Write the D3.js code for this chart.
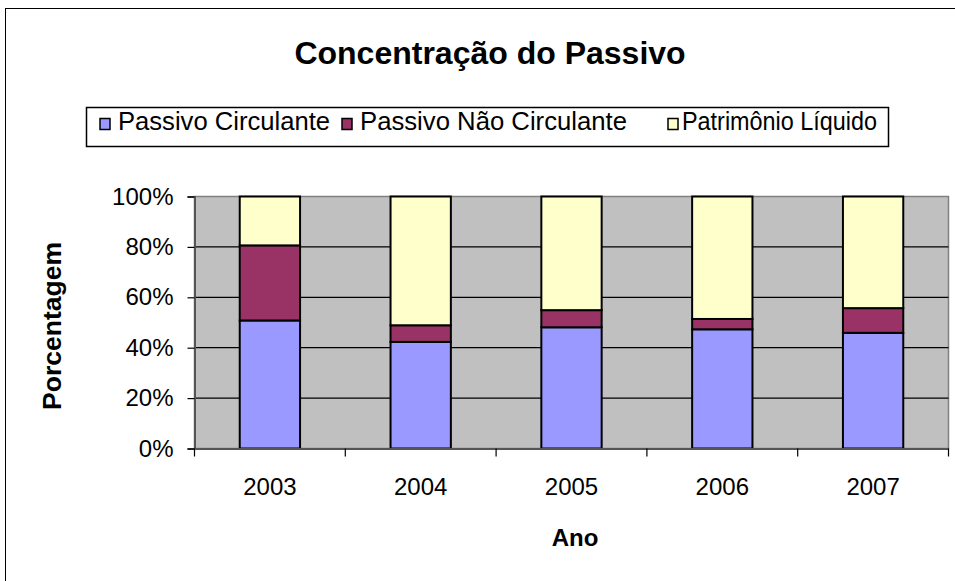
<!DOCTYPE html>
<html>
<head>
<meta charset="utf-8">
<script src="https://cdn.jsdelivr.net/npm/d3@7"></script>
<style>
  body { margin: 0; background: #fff; }
  svg { display: block; font-family: "Liberation Sans", Arial, sans-serif; }
</style>
</head>
<body>
<svg id="chart" width="955" height="581"></svg>
<script>
var categories = ["2003", "2004", "2005", "2006", "2007"];
var seriesNames = ["Passivo Circulante", "Passivo Não Circulante", "Patrimônio Líquido"];
var passivoCirculante = [50.8, 42.3, 48.1, 47.3, 45.9];
var passivoNaoCirculante = [29.8, 6.6, 6.8, 4.1, 9.8];
var patrimonioLiquido = [19.4, 51.1, 45.1, 48.6, 44.3];
var yTicks = [0, 20, 40, 60, 80, 100];
var colors = ["#9999ff", "#993366", "#ffffcc"];

var rows = categories.map(function(c, i) {
    return { ano: c, s0: passivoCirculante[i], s1: passivoNaoCirculante[i], s2: patrimonioLiquido[i] };
});

var svg = d3.select("#chart");
var plot = { left: 194.5, top: 196.5, right: 948.5, bottom: 448.5 };

// outer chart frame (runs past the window on right/bottom)
svg.append("rect")
    .attr("x", 5.5).attr("y", 8.5)
    .attr("width", 1000).attr("height", 700)
    .attr("fill", "#fff").attr("stroke", "#000").attr("stroke-width", 1);

var x = d3.scaleBand()
    .domain(categories)
    .range([plot.left, plot.right])
    .paddingInner(0.6).paddingOuter(0.3);

var xStep = d3.scaleBand().domain(categories).range([plot.left, plot.right]);

var y = d3.scaleLinear().domain([0, 100]).range([plot.bottom, plot.top]);

// plot area
svg.append("rect")
    .attr("x", plot.left).attr("y", plot.top)
    .attr("width", plot.right - plot.left).attr("height", plot.bottom - plot.top)
    .attr("fill", "#c0c0c0").attr("stroke", "#808080").attr("stroke-width", 1.5);

// gridlines
svg.append("g").selectAll("line")
    .data(yTicks.filter(function(t) { return t > 0 && t < 100; }))
    .enter().append("line")
    .attr("x1", plot.left).attr("x2", plot.right)
    .attr("y1", function(d) { return y(d); }).attr("y2", function(d) { return y(d); })
    .attr("stroke", "#000").attr("stroke-width", 1.2);

// stacked bars
var stack = d3.stack().keys(["s0", "s1", "s2"]);
var layers = stack(rows);

svg.append("g").selectAll("g")
    .data(layers)
    .enter().append("g")
    .attr("fill", function(d, i) { return colors[i]; })
    .selectAll("rect")
    .data(function(d) { return d; })
    .enter().append("rect")
    .attr("x", function(d) { return x(d.data.ano); })
    .attr("width", x.bandwidth())
    .attr("y", function(d) { return y(d[1]); })
    .attr("height", function(d) { return y(d[0]) - y(d[1]); })
    .attr("stroke", "#000").attr("stroke-width", 2);

// y axis
var yAxis = d3.axisLeft(y)
    .tickValues(yTicks)
    .tickSize(7)
    .tickPadding(14)
    .tickFormat(function(d) { return d + "%"; });

var gy = svg.append("g")
    .attr("transform", "translate(" + plot.left + ",0)")
    .call(yAxis);
gy.select(".domain").attr("stroke", "#555").attr("stroke-width", 2);
gy.selectAll(".tick line").attr("stroke", "#000").attr("stroke-width", 1.2);
gy.selectAll("text")
    .attr("font-size", 24).attr("fill", "#000")
    .attr("font-family", "Liberation Sans, Arial, sans-serif");

// x axis: ticks between categories
var xAxis = d3.axisBottom(xStep).tickSize(0).tickPadding(29);
var gx = svg.append("g")
    .attr("transform", "translate(0," + plot.bottom + ")")
    .call(xAxis);
gx.select(".domain").attr("stroke", "#555").attr("stroke-width", 2);
gx.selectAll("text")
    .attr("font-size", 24).attr("fill", "#000")
    .attr("font-family", "Liberation Sans, Arial, sans-serif");

var boundaries = categories.map(function(c) { return xStep(c); }).concat([plot.right]);
gx.selectAll(".sep")
    .data(boundaries)
    .enter().append("line")
    .attr("class", "sep")
    .attr("x1", function(d) { return d; }).attr("x2", function(d) { return d; })
    .attr("y1", 0).attr("y2", 8)
    .attr("stroke", "#000").attr("stroke-width", 1.2);

// title
svg.append("text")
    .attr("x", 490).attr("y", 64)
    .attr("text-anchor", "middle")
    .attr("font-size", 32).attr("font-weight", "bold")
    .text("Concentração do Passivo");

// axis titles
svg.append("text")
    .attr("x", 575).attr("y", 546)
    .attr("text-anchor", "middle")
    .attr("font-size", 24).attr("font-weight", "bold")
    .text("Ano");

svg.append("text")
    .attr("transform", "translate(61,326) rotate(-90)")
    .attr("text-anchor", "middle")
    .attr("font-size", 26.5).attr("font-weight", "bold")
    .text("Porcentagem");

// legend
var legend = svg.append("g");
legend.append("rect")
    .attr("x", 86.5).attr("y", 107.5)
    .attr("width", 802).attr("height", 39)
    .attr("fill", "#fff").attr("stroke", "#000").attr("stroke-width", 1.5);

var legendX = [100, 342, 668];
var legendW = [212, 267, 195];
var items = legend.selectAll(".item")
    .data(seriesNames)
    .enter().append("g")
    .attr("class", "item")
    .attr("transform", function(d, i) { return "translate(" + legendX[i] + ",0)"; });

items.append("rect")
    .attr("x", 0).attr("y", 118.5)
    .attr("width", 10).attr("height", 11)
    .attr("fill", function(d, i) { return colors[i]; })
    .attr("stroke", "#000").attr("stroke-width", 1.5);

items.append("text")
    .attr("x", function(d, i) { return i === 2 ? 14 : 18; }).attr("y", 130)
    .attr("font-size", 25)
    .attr("textLength", function(d, i) { return legendW[i]; })
    .attr("lengthAdjust", "spacingAndGlyphs")
    .text(function(d) { return d; });
</script>
</body>
</html>
